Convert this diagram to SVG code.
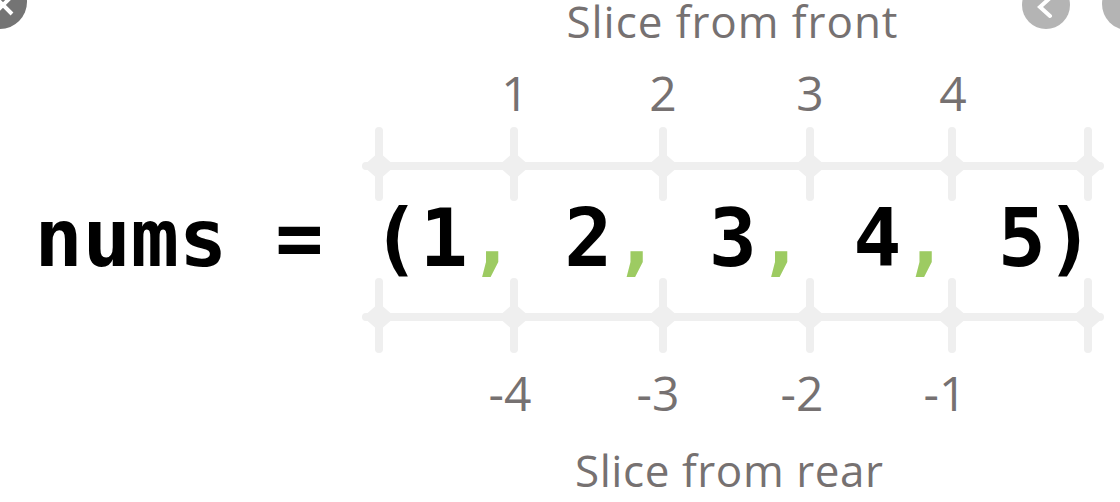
<svg xmlns="http://www.w3.org/2000/svg" width="1120" height="502" viewBox="0 0 1120 502">
<style>
.lbl{font-family:"Open Sans","Noto Sans",sans-serif;fill:#767171;text-anchor:middle}
.num{font-size:48px}
.title{font-size:44px}
.code{font-family:"DejaVu Sans Mono","Liberation Mono",monospace;font-weight:bold;font-size:80px;fill:#000}
.cm{fill:#9dcb62}
.rail{stroke:#efefef;stroke-width:8;stroke-linecap:round;fill:none}
.dm{fill:#efefef}
</style>
<rect width="1120" height="502" fill="#fff"/>
<g id="browser-ui">
<circle cx="0" cy="2" r="27" fill="#747474"/>
<path d="M-6 -4 L12 14 M-6 14 L12 -4" stroke="#fff" stroke-width="4" fill="none"/>
<circle cx="1046" cy="5" r="24" fill="#b4b4b4"/>
<path d="M1050 -2 L1040 7 L1050 16" stroke="#fff" stroke-width="4" fill="none" stroke-linecap="round"/>
<circle cx="1128" cy="4" r="26" fill="#b4b4b4"/>
</g>
<g id="connectors">
<g id="front-rail">
<line class="rail" x1="366" y1="166" x2="1100" y2="166"/>
<line class="rail" x1="379" y1="131" x2="379" y2="197"/>
<line class="rail" x1="514" y1="131" x2="514" y2="197"/>
<line class="rail" x1="663" y1="131" x2="663" y2="197"/>
<line class="rail" x1="810" y1="131" x2="810" y2="197"/>
<line class="rail" x1="952" y1="131" x2="952" y2="197"/>
<line class="rail" x1="1088" y1="131" x2="1088" y2="197"/>
<polygon class="dm" points="363,166 379,152 395,166 379,180"/>
<polygon class="dm" points="498,166 514,152 530,166 514,180"/>
<polygon class="dm" points="647,166 663,152 679,166 663,180"/>
<polygon class="dm" points="794,166 810,152 826,166 810,180"/>
<polygon class="dm" points="936,166 952,152 968,166 952,180"/>
<polygon class="dm" points="1072,166 1088,152 1104,166 1088,180"/>
</g>
<g id="rear-rail">
<line class="rail" x1="366" y1="317" x2="1100" y2="317"/>
<line class="rail" x1="379" y1="282" x2="379" y2="349"/>
<line class="rail" x1="514" y1="282" x2="514" y2="349"/>
<line class="rail" x1="663" y1="282" x2="663" y2="349"/>
<line class="rail" x1="810" y1="282" x2="810" y2="349"/>
<line class="rail" x1="952" y1="282" x2="952" y2="349"/>
<line class="rail" x1="1088" y1="282" x2="1088" y2="349"/>
<polygon class="dm" points="363,317 379,303 395,317 379,331"/>
<polygon class="dm" points="498,317 514,303 530,317 514,331"/>
<polygon class="dm" points="647,317 663,303 679,317 663,331"/>
<polygon class="dm" points="794,317 810,303 826,317 810,331"/>
<polygon class="dm" points="936,317 952,303 968,317 952,331"/>
<polygon class="dm" points="1072,317 1088,303 1104,317 1088,331"/>
</g>
</g>
<g id="title-front"><text class="lbl title" x="732" y="38" textLength="331">Slice from front</text></g>
<g id="front-indices">
<text class="lbl num" x="515" y="111">1</text>
<text class="lbl num" x="663" y="111">2</text>
<text class="lbl num" x="810" y="111">3</text>
<text class="lbl num" x="953" y="111">4</text>
</g>
<g id="code">
<text class="code" x="34.5" y="266">nums = (1<tspan class="cm">,</tspan> 2<tspan class="cm">,</tspan> 3<tspan class="cm">,</tspan> 4<tspan class="cm">,</tspan> 5)</text>
</g>
<g id="rear-indices">
<text class="lbl num" x="510" y="411">-4</text>
<text class="lbl num" x="658" y="411">-3</text>
<text class="lbl num" x="802" y="411">-2</text>
<text class="lbl num" x="945" y="411">-1</text>
</g>
<g id="title-rear"><text class="lbl title" x="729" y="487" textLength="308">Slice from rear</text></g>
</svg>
